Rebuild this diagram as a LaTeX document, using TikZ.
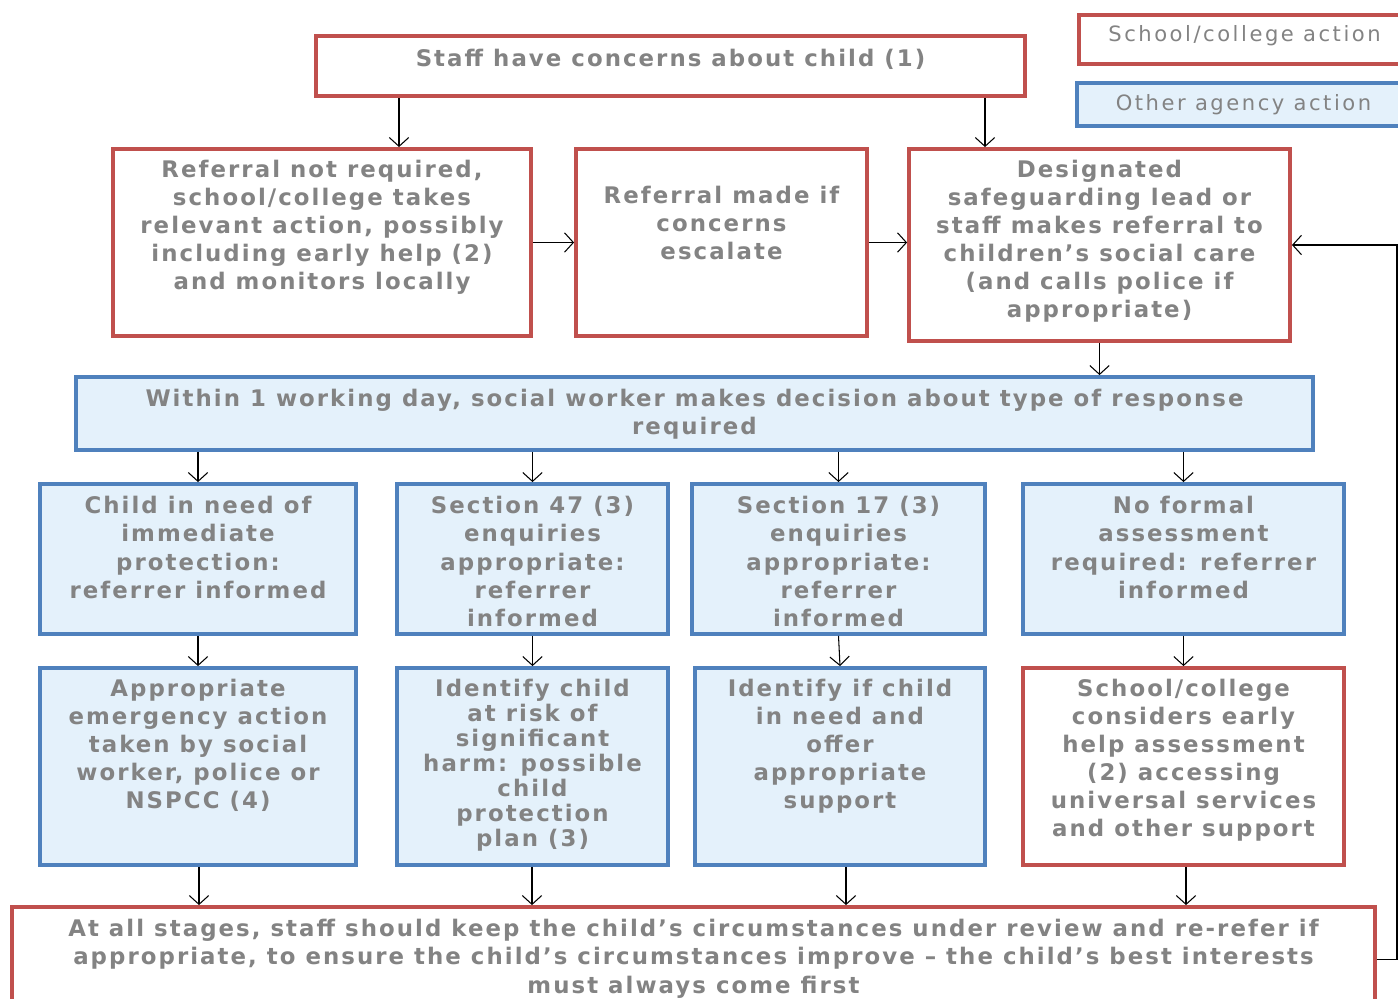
\documentclass[tikz,border=0pt]{standalone}
\usepackage{fontspec}
\setmainfont{DejaVu Sans}
\newfontfamily\boxfont[LetterSpace=9]{DejaVu Sans}
\newfontfamily\keyfont[LetterSpace=12]{DejaVu Sans}
\usepackage{tikz}
\usetikzlibrary{fit,arrows.meta}
\definecolor{schoolred}{HTML}{C0504D}
\definecolor{agencyblue}{HTML}{4F81BD}
\definecolor{paleblue}{HTML}{E4F1FB}
\definecolor{textgrey}{HTML}{838383}

\begin{document}
\begin{tikzpicture}[x=0.02cm, y=-0.02cm,
  redbox/.style={draw=schoolred, line width=2.2pt, fill=white, inner sep=0pt},
  bluebox/.style={draw=agencyblue, line width=2.2pt, fill=paleblue, inner sep=0pt},
  txt/.style={text=textgrey, font=\boxfont\fontsize{13}{16}\selectfont\bfseries, align=center, inner sep=0pt},
  keytxt/.style={text=textgrey, font=\keyfont\fontsize{12}{14}\selectfont, inner sep=0pt},
  arr/.style={-{Straight Barb[length=5pt,width=11pt]}, line width=0.6pt}]
  \clip (0,0) rectangle (1398,998);
  % key
  \node[redbox, fit={(1079,15) (1410,64)}] (keyschool) {};
  \node[keytxt] (keyschoolt) at ([yshift=2pt]keyschool.center) {School/college action};
  \node[bluebox, fit={(1077,83) (1410,126)}] (keyagency) {};
  \node[keytxt] (keyagencyt) at (keyagency.center) {Other agency action};
  % first steps
  \node[redbox, fit={(316,36) (1025,96)}] (concern) {};
  \node[txt] (concernt) at ([yshift=4pt]concern.center) {Staff have concerns about child (1)};
  \node[redbox, fit={(113,149) (531,336)}] (noref) {};
  \node[txt, anchor=north] (noreft) at ([yshift=-7pt]noref.north) {Referral not required,\\school/college takes\\relevant action, possibly\\including early help (2)\\and monitors locally};
  \node[redbox, fit={(576,149) (867,336)}] (escalate) {};
  \node[txt, anchor=north] (escalatet) at ([yshift=-22pt]escalate.north) {Referral made if\\concerns\\escalate};
  \node[redbox, fit={(909,149) (1290,341)}] (dsl) {};
  \node[txt, anchor=north] (dslt) at ([yshift=-7pt]dsl.north) {Designated\\safeguarding lead or\\staff makes referral to\\children’s social care\\(and calls police if\\appropriate)};
  % decision
  \node[bluebox, fit={(76,377) (1313,450)}] (decide) {};
  \node[txt, anchor=north] (decidet) at ([yshift=-8pt]decide.north) {Within 1 working day, social worker makes decision about type of response\\required};
  % responses
  \node[bluebox, fit={(40,484) (356,634)}] (protect) {};
  \node[txt, anchor=north] (protectt) at ([yshift=-8pt]protect.north) {Child in need of\\immediate\\protection:\\referrer informed};
  \node[bluebox, fit={(397,484) (668,634)}] (sfortyseven) {};
  \node[txt, anchor=north] (sfortysevent) at ([yshift=-8pt]sfortyseven.north) {Section 47 (3)\\enquiries\\appropriate:\\referrer\\informed};
  \node[bluebox, fit={(692,484) (985,634)}] (sseventeen) {};
  \node[txt, anchor=north] (sseventeent) at ([yshift=-8pt]sseventeen.north) {Section 17 (3)\\enquiries\\appropriate:\\referrer\\informed};
  \node[bluebox, fit={(1023,484) (1344,634)}] (noassess) {};
  \node[txt, anchor=north] (noassesst) at ([yshift=-8pt]noassess.north) {No formal\\assessment\\required: referrer\\informed};
  % outcomes
  \node[bluebox, fit={(40,668) (356,865)}] (emergency) {};
  \node[txt, anchor=north] (emergencyt) at ([yshift=-7pt]emergency.north) {Appropriate\\emergency action\\taken by social\\worker, police or\\NSPCC (4)};
  \node[bluebox, fit={(397,668) (668,865)}] (atrisk) {};
  \node[txt, anchor=north, font=\boxfont\fontsize{13}{14.3}\selectfont\bfseries] (atriskt) at ([yshift=-7pt]atrisk.north) {Identify child\\at risk of\\significant\\harm: possible\\child\\protection\\plan (3)};
  \node[bluebox, fit={(695,668) (985,865)}] (inneed) {};
  \node[txt, anchor=north] (inneedt) at ([yshift=-7pt]inneed.north) {Identify if child\\in need and\\offer\\appropriate\\support};
  \node[redbox, fit={(1023,668) (1344,865)}] (earlyhelp) {};
  \node[txt, anchor=north] (earlyhelpt) at ([yshift=-7pt]earlyhelp.north) {School/college\\considers early\\help assessment\\(2) accessing\\universal services\\and other support};
  % review
  \node[redbox, fit={(12,907) (1375,1012)}] (review) {};
  \node[txt, anchor=north] (reviewt) at ([yshift=-8pt]review.north) {At all stages, staff should keep the child’s circumstances under review and re-refer if\\appropriate, to ensure the child’s circumstances improve – the child’s best interests\\must always come first};
  \coordinate (loopx) at (1397,0);
  % connectors
  \draw[arr] (concern.south -| 399,0) -- (noref.north -| 399,0);
  \draw[arr] (concern.south -| 985,0) -- (dsl.north -| 985,0);
  \draw[arr] (noref.east) -- (escalate.west);
  \draw[arr] (escalate.east) -- (escalate.east -| dsl.west);
  \draw[arr] (dsl.south) -- (dsl.south |- decide.north);
  \foreach \a/\b in {protect/emergency, sfortyseven/atrisk, sseventeen/inneed, noassess/earlyhelp}{
    \draw[arr] (decide.south -| \a.north) -- (\a.north);
    \draw[arr] (\a.south) -- (\b.north);
  }
  \foreach \b/\x in {emergency/199, atrisk/532, inneed/846, earlyhelp/1186}
    \draw[arr] (\b.south -| \x,0) -- (review.north -| \x,0);
  \draw[arr] (review.east) -- (review.east -| loopx) |- (dsl.east);
\end{tikzpicture}
\end{document}
